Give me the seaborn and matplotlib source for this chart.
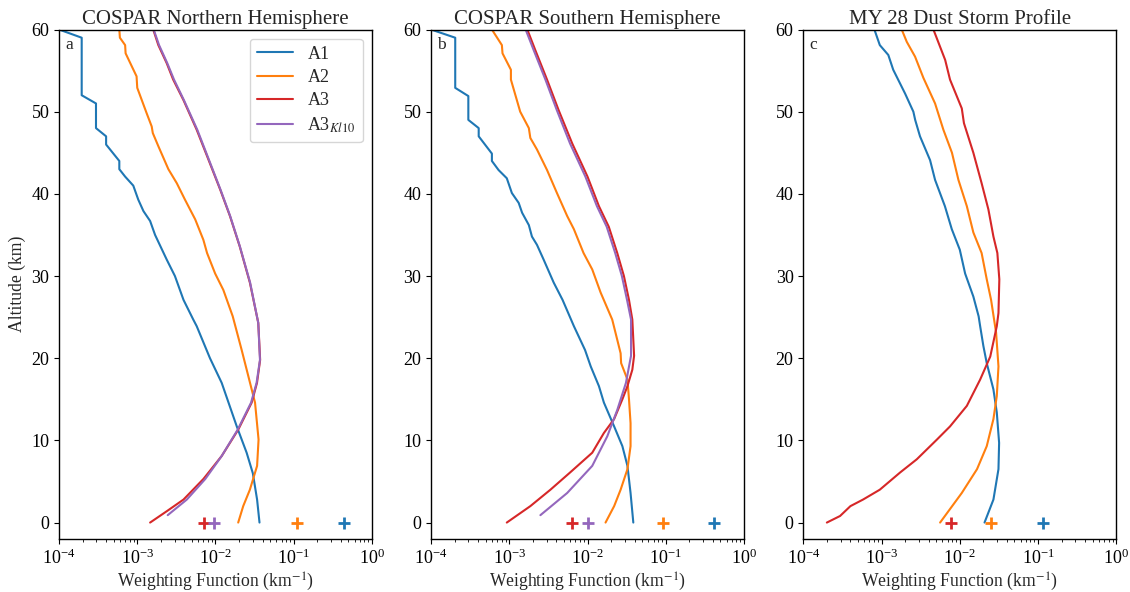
import numpy as np
import pandas as pd
import matplotlib
matplotlib.use("Agg")
import matplotlib.pyplot as plt
import seaborn as sns

# ---------------- data ----------------
# Panel a: COSPAR Northern Hemisphere
na_a1_alt = [60, 59, 52, 51, 48, 47, 46, 44, 43, 42.1, 41, 39.3, 37.9, 36.7, 35, 32, 30, 27.1, 24.7, 23.9, 20, 17, 11.7, 8.5, 6, 2.8, 0]
na_a1_wf = [1.0e-4, 1.95e-4, 1.95e-4, 2.97e-4, 2.97e-4, 4.0e-4, 4.0e-4, 5.9e-4, 5.9e-4, 7.0e-4, 8.9e-4, 1.03e-3, 1.2e-3,
            1.46e-3, 1.69e-3, 2.38e-3, 3.03e-3, 3.9e-3, 5.2e-3, 5.75e-3, 8.5e-3, 1.2e-2, 1.87e-2, 2.5e-2, 3.0e-2, 3.4e-2, 3.65e-2]
na_a2_alt = [60, 59, 58.1, 57.1, 54.3, 52.9, 49.8, 48.2, 47.4, 45.8, 43, 41.3, 39.3, 36.9, 34.4, 32.8, 30.3, 28.3, 25.1,
             21.0, 17.8, 14.6, 10.1, 6.9, 4.0, 2.0, 0]
na_a2_wf = [5.9e-4, 6.0e-4, 7.0e-4, 7.1e-4, 9.8e-4, 1.0e-3, 1.32e-3, 1.53e-3, 1.58e-3, 1.86e-3, 2.5e-3, 3.2e-3, 4.07e-3,
            5.5e-3, 7.0e-3, 7.8e-3, 9.9e-3, 1.26e-2, 1.66e-2, 2.16e-2, 2.63e-2, 3.2e-2, 3.55e-2, 3.4e-2, 2.75e-2, 2.26e-2, 1.95e-2]
na_a3_alt = [60, 58.1, 55.9, 53.9, 51.4, 47.8, 44.6, 40.5, 37.3, 33.6, 29.2, 24.3, 19.8, 17.0, 14.6, 11.3, 8.1, 5.3, 2.8, 1.4, 0]
na_a3_wf = [1.6e-3, 1.86e-3, 2.38e-3, 2.88e-3, 3.9e-3, 5.75e-3, 7.8e-3, 1.15e-2, 1.53e-2, 2.04e-2, 2.75e-2, 3.52e-2,
            3.72e-2, 3.39e-2, 2.9e-2, 1.95e-2, 1.2e-2, 7.0e-3, 3.9e-3, 2.4e-3, 1.46e-3]
na_kl_alt = [60, 58.1, 55.9, 53.9, 51.4, 47.8, 44.6, 40.5, 37.3, 33.6, 29.2, 24.3, 19.8, 17.0, 14.6, 11.3, 8.1, 5.3, 2.8, 0.9]
na_kl_wf = [1.62e-3, 1.9e-3, 2.42e-3, 2.95e-3, 3.95e-3, 5.85e-3, 7.9e-3, 1.16e-2, 1.54e-2, 2.05e-2, 2.77e-2, 3.52e-2,
            3.7e-2, 3.35e-2, 2.85e-2, 1.92e-2, 1.2e-2, 7.4e-3, 4.3e-3, 2.45e-3]
na_markers = [0.44, 0.111, 7.1e-3, 9.5e-3]

# Panel b: COSPAR Southern Hemisphere
sa_a1_alt = [60, 59, 52.9, 51.9, 49, 48, 47, 44.9, 44, 42.9, 41.9, 40.1, 38.9, 37.7, 36.2, 34.8, 33.8, 32, 29.2, 27.1,
             23.9, 21.0, 19.0, 16.6, 14.6, 11.7, 9.3, 6.9, 3.6, 0]
sa_a1_wf = [1.0e-4, 2.04e-4, 2.04e-4, 3.0e-4, 3.0e-4, 4.07e-4, 4.07e-4, 6.0e-4, 6.0e-4, 7.3e-4, 9.3e-4, 1.08e-3, 1.32e-3,
            1.46e-3, 1.78e-3, 1.95e-3, 2.26e-3, 2.75e-3, 3.7e-3, 4.8e-3, 6.7e-3, 9.3e-3, 1.1e-2, 1.4e-2, 1.62e-2, 2.19e-2,
            2.79e-2, 3.24e-2, 3.55e-2, 3.85e-2]
sa_a2_alt = [60, 58.1, 57.1, 55.1, 53.9, 50.0, 48.0, 46.8, 45.4, 42.9, 40.1, 37.3, 35.7, 32.8, 30.8, 28.0, 24.7, 20.6,
             19.4, 17.4, 15.0, 12.1, 9.3, 6.5, 4.0, 2.0, 0]
sa_a2_wf = [6.0e-4, 8.05e-4, 8.2e-4, 1.05e-3, 1.05e-3, 1.38e-3, 1.78e-3, 1.86e-3, 2.26e-3, 3.04e-3, 4.07e-3, 5.5e-3,
            6.7e-3, 8.9e-3, 1.15e-2, 1.47e-2, 2.07e-2, 2.65e-2, 2.69e-2, 3.24e-2, 3.39e-2, 3.55e-2, 3.55e-2, 3.24e-2,
            2.65e-2, 2.19e-2, 1.7e-2]
sa_a3_alt = [60, 57.5, 53.9, 50.2, 46.1, 42.1, 38.5, 36.0, 32.8, 30.0, 27.1, 24.7, 20.3, 18.6, 16.6, 15.0, 12.6, 10.9,
             8.5, 6.1, 4.0, 2.0, 0]
sa_a3_wf = [1.7e-3, 2.15e-3, 3.04e-3, 4.27e-3, 6.4e-3, 1.0e-2, 1.4e-2, 1.87e-2, 2.4e-2, 2.92e-2, 3.39e-2, 3.74e-2,
            3.94e-2, 3.74e-2, 3.24e-2, 2.79e-2, 2.19e-2, 1.62e-2, 1.15e-2, 6.0e-3, 3.36e-3, 1.86e-3, 9.3e-4]
sa_kl_alt = [60, 57.5, 53.9, 50.2, 46.1, 42.1, 38.5, 36.0, 32.8, 30.0, 27.1, 24.7, 20.3, 17.0, 13.7, 10.5, 6.9, 3.6, 0.9]
sa_kl_wf = [1.62e-3, 2.05e-3, 2.9e-3, 4.05e-3, 6.0e-3, 9.4e-3, 1.32e-2, 1.76e-2, 2.26e-2, 2.75e-2, 3.2e-2, 3.6e-2,
            3.6e-2, 3.1e-2, 2.4e-2, 1.79e-2, 1.15e-2, 5.5e-3, 2.5e-3]
sa_markers = [0.41, 0.091, 6.3e-3, 1.0e-2]

# Panel c: MY 28 Dust Storm Profile
ds_a1_alt = [60, 58.1, 56.9, 55.1, 52.2, 50.0, 49.0, 47.0, 44.1, 41.7, 38.5, 35.7, 33.2, 30.3, 27.5, 25.1, 23.9, 21.5,
             19.4, 16.2, 13.4, 9.7, 6.5, 2.8, 0]
ds_a1_wf = [8.1e-4, 9.5e-4, 1.22e-3, 1.41e-3, 2.0e-3, 2.55e-3, 2.69e-3, 3.1e-3, 4.17e-3, 4.83e-3, 6.45e-3, 7.9e-3,
            1.0e-2, 1.17e-2, 1.49e-2, 1.74e-2, 1.82e-2, 2.0e-2, 2.21e-2, 2.69e-2, 2.97e-2, 3.18e-2, 3.12e-2, 2.69e-2, 2.07e-2]
ds_a2_alt = [60, 58.5, 56.7, 54.1, 51.0, 47.8, 45.0, 41.7, 38.5, 35.3, 32.8, 29.6, 27.1, 23.1, 19.0, 15.4, 12.6, 9.3,
             6.5, 3.6, 0]
ds_a2_wf = [1.81e-3, 2.1e-3, 2.68e-3, 3.43e-3, 4.83e-3, 6.17e-3, 7.94e-3, 9.6e-3, 1.23e-2, 1.49e-2, 1.9e-2, 2.21e-2,
            2.51e-2, 2.91e-2, 3.12e-2, 2.97e-2, 2.69e-2, 2.21e-2, 1.66e-2, 1.06e-2, 5.6e-3]
ds_a3_alt = [60, 56.3, 53.9, 50.4, 48.6, 45.0, 41.3, 38.1, 34.8, 32.8, 29.6, 25.5, 23.9, 20.2, 17.4, 14.2, 11.7, 10.1,
             7.7, 6.1, 4.0, 2.8, 2.0, 0.8, 0]
ds_a3_wf = [4.6e-3, 6.5e-3, 7.5e-3, 1.06e-2, 1.13e-2, 1.49e-2, 1.9e-2, 2.32e-2, 2.69e-2, 3.02e-2, 3.2e-2, 3.12e-2,
            2.97e-2, 2.45e-2, 1.82e-2, 1.23e-2, 7.5e-3, 5.1e-3, 2.82e-3, 1.73e-3, 9.5e-4, 5.8e-4, 4.0e-4, 2.95e-4, 2.0e-4]
ds_markers = [0.117, 0.025, 7.7e-3]

series_names = ["A1", "A2", "A3", "A3$_{Kl10}$"]
titles = ["COSPAR Northern Hemisphere", "COSPAR Southern Hemisphere", "MY 28 Dust Storm Profile"]
panel_letters = ["a", "b", "c"]
colors = ["#1f77b4", "#ff7f0e", "#d62728", "#9467bd"]

panels = [
    [(na_a1_alt, na_a1_wf), (na_a2_alt, na_a2_wf), (na_a3_alt, na_a3_wf), (na_kl_alt, na_kl_wf)],
    [(sa_a1_alt, sa_a1_wf), (sa_a2_alt, sa_a2_wf), (sa_a3_alt, sa_a3_wf), (sa_kl_alt, sa_kl_wf)],
    [(ds_a1_alt, ds_a1_wf), (ds_a2_alt, ds_a2_wf), (ds_a3_alt, ds_a3_wf)],
]
markers = [na_markers, sa_markers, ds_markers]

# ---------------- style ----------------
sns.set_style("ticks")
plt.rcParams["font.family"] = ["Liberation Serif", "DejaVu Serif"]
plt.rcParams["mathtext.fontset"] = "stix"
plt.rcParams["axes.edgecolor"] = "black"
plt.rcParams["xtick.color"] = "black"
plt.rcParams["ytick.color"] = "black"

fig = plt.figure(figsize=(11.30, 5.92), dpi=100)
W, H = 1130, 592
lefts = [59, 431, 803.3]
axes = []
for L in lefts:
    axes.append(fig.add_axes([L / W, (592 - 539) / H, 313 / W, (539 - 29.5) / H]))

for i, ax in enumerate(axes):
    for j, (alt, wf) in enumerate(panels[i]):
        df = pd.DataFrame({"wf": wf, "alt": alt})
        sns.lineplot(data=df, x="wf", y="alt", sort=False, estimator=None, color=colors[j],
                     linewidth=1.5, ax=ax, label=series_names[j] if i == 0 else None, legend=False)
    for j, m in enumerate(markers[i]):
        sns.scatterplot(x=[m], y=[0], marker="+", s=70, color=colors[j], linewidth=2,
                        ax=ax, legend=False, zorder=5)
    ax.set_xscale("log")
    ax.set_xlim(1e-4, 1)
    ax.set_ylim(-2, 60)
    ax.set_yticks([0, 10, 20, 30, 40, 50, 60])
    ax.set_title(titles[i], fontsize=15, pad=4)
    ax.set_xlabel("Weighting Function (km$^{-1}$)", fontsize=12.7, labelpad=2)
    if i == 0:
        ax.set_ylabel("Altitude (km)", fontsize=12.7)
    else:
        ax.set_ylabel("")
    ax.tick_params(axis="both", labelsize=13, direction="out")
    ax.text(0.02, 0.985, panel_letters[i], transform=ax.transAxes, fontsize=12.5, va="top", ha="left")
    for sp in ax.spines.values():
        sp.set_visible(True)
        sp.set_color("black")
        sp.set_linewidth(1.0)

axes[0].legend(loc="upper right", fontsize=13, frameon=True, handlelength=2.0, labelspacing=0.35)

fig.savefig("out.png", dpi=100)
